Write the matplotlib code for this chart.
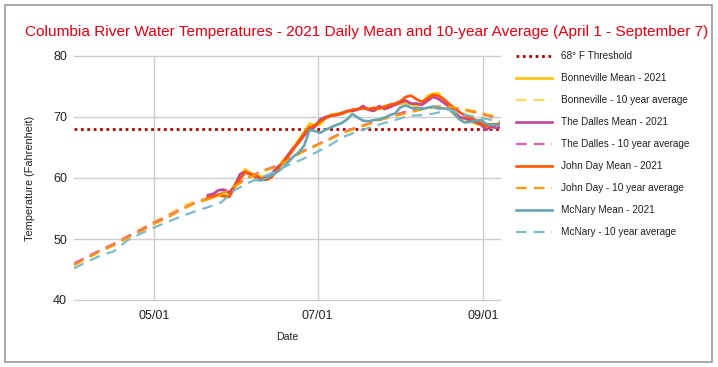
import numpy as np
import matplotlib
matplotlib.use("Agg")
import matplotlib.pyplot as plt
import matplotlib.dates as mdates
from matplotlib.patches import Rectangle

plt.rcParams['font.family'] = ['Liberation Sans', 'DejaVu Sans']

# ---------------- data ----------------
start_date = np.datetime64('2021-04-01')
end_date = np.datetime64('2021-09-07')
threshold = 68

# 10-year averages: day offsets from April 1
avg_days = [0, 5, 10, 15, 20, 25, 30, 35, 40, 45, 50, 55, 60, 65, 70, 75, 80,
            85, 90, 95, 100, 105, 110, 115, 120, 125, 130, 135, 140, 145, 150, 155, 159]
bonneville_avg = [45.8, 47.0, 48.2, 49.3, 50.5, 51.7, 52.9, 54.0, 55.3, 56.2, 56.8, 57.5, 58.8,
                  60.1, 61.1, 61.9, 63.0, 64.3, 65.3, 66.3, 67.4, 68.2, 68.9, 69.6, 70.2, 70.7,
                  71.2, 71.5, 71.5, 71.1, 70.6, 69.7, 69.2]
dalles_avg = [46.0, 47.1, 48.2, 49.2, 50.4, 51.5, 52.7, 53.7, 54.9, 55.9, 56.6, 57.4, 58.7,
              60.1, 61.1, 61.9, 63.0, 64.3, 65.3, 66.3, 67.4, 68.2, 68.9, 69.7, 70.4, 71.0,
              71.5, 71.7, 71.6, 71.3, 70.8, 70.2, 69.8]
johnday_avg = [45.7, 46.9, 48.0, 49.0, 50.2, 51.3, 52.5, 53.5, 54.8, 55.8, 56.5, 57.3, 58.6,
               60.0, 61.0, 61.8, 62.9, 64.2, 65.2, 66.2, 67.3, 68.1, 68.8, 69.6, 70.2, 70.7,
               71.3, 71.7, 71.7, 71.3, 70.9, 70.3, 70.0]
mcnary_avg = [45.2, 46.3, 47.3, 48.0, 49.8, 50.9, 51.9, 52.8, 53.7, 54.5, 55.2, 56.0, 58.0,
              59.2, 60.1, 61.0, 62.1, 63.0, 64.1, 65.2, 66.6, 67.5, 68.2, 68.9, 69.5, 70.2,
              70.3, 70.6, 71.2, 70.5, 70.0, 69.6, 69.3]

# 2021 daily means (every 2nd day from May 21, day offset 50)
mean_days = list(range(50, 159, 2)) + [159]
bonneville_2021 = [56.6, 56.8, 57.2, 57.0, 57.5, 58.9, 60.5, 61.4, 60.8, 60.5, 60.2, 60.3, 60.5,
                   61.5, 62.8, 63.8, 65.0, 66.3, 67.5, 68.9, 68.7, 68.8, 69.9, 70.4, 70.5, 70.7,
                   70.9, 71.0, 71.3, 71.7, 71.2, 71.0, 71.4, 71.8, 72.0, 72.0, 72.2, 72.3, 72.1,
                   71.8, 72.1, 73.4, 73.8, 73.9, 72.8, 71.4, 70.4, 69.8, 69.7, 69.4, 68.9, 68.7,
                   68.4, 68.2, 68.8, 69.0]
dalles_2021 = [57.2, 57.4, 58.0, 58.1, 57.6, 58.6, 60.6, 61.0, 60.6, 60.4, 59.8, 60.2, 60.8,
               61.8, 62.4, 63.8, 64.9, 65.8, 67.0, 67.8, 68.4, 69.6, 70.0, 70.2, 70.3, 70.6,
               71.0, 71.0, 71.2, 71.8, 71.2, 71.0, 71.8, 71.3, 71.6, 72.0, 72.4, 72.7, 72.2,
               72.2, 72.0, 72.6, 73.3, 73.0, 72.4, 71.8, 70.9, 70.0, 69.8, 69.5, 69.2, 68.8,
               67.9, 68.4, 68.2, 68.3]
johnday_2021 = [56.8, 57.0, 57.3, 57.0, 56.9, 58.5, 59.8, 60.9, 60.6, 60.1, 59.8, 59.7, 60.2,
                61.4, 62.6, 63.5, 64.7, 66.0, 67.3, 68.3, 68.6, 69.3, 69.8, 70.2, 70.4, 70.5,
                70.9, 71.2, 71.3, 71.4, 71.3, 71.5, 71.4, 71.6, 72.0, 72.2, 72.6, 73.3, 73.5,
                72.9, 72.5, 73.0, 73.6, 73.5, 73.0, 72.2, 71.5, 70.8, 70.3, 69.9, 69.5, 69.0,
                68.5, 68.8, 68.8, 68.9]
mcnary_days = list(range(68, 159, 2)) + [159]
mcnary_2021 = [59.7, 59.6, 60.0, 60.5, 61.0, 61.7, 62.6, 63.5, 64.2, 65.3, 67.9, 67.7, 67.4,
               67.9, 68.3, 68.7, 69.0, 69.6, 70.5, 69.9, 69.4, 69.3, 69.5, 69.6, 69.9, 70.3,
               70.6, 71.6, 71.9, 71.5, 71.4, 71.3, 71.5, 71.7, 71.4, 71.4, 71.3, 70.6, 69.6,
               69.1, 69.2, 69.4, 69.5, 68.9, 68.7, 68.7, 68.7]

tick_dates = ['2021-05-01', '2021-07-01', '2021-09-01']
y_ticks = [40, 50, 60, 70, 80]

# ---------------- drawing ----------------
W, H = 718, 367
fig = plt.figure(figsize=(W / 100, H / 100), dpi=100)
ax = fig.add_axes([74 / W, 1 - 300 / H, 426 / W, 244 / H])

def to_dates(days):
    return start_date + np.array(days).astype('timedelta64[D]')

mean_lw = 1.9
avg_lw = 1.6
dash = (0, (4.8, 3.2))

ax.axhline(threshold, color='#B00000', lw=2.0, linestyle=(0, (1, 1.3)),
           label='68° F Threshold', zorder=2)

series = [
    (mean_days, bonneville_2021, '#FFBF00', 'solid', 'Bonneville Mean - 2021'),
    (avg_days, bonneville_avg, '#FFD966', 'dashed', 'Bonneville - 10 year average'),
    (mean_days, dalles_2021, '#C2449A', 'solid', 'The Dalles Mean - 2021'),
    (avg_days, dalles_avg, '#E65BAE', 'dashed', 'The Dalles - 10 year average'),
    (mean_days, johnday_2021, '#FF5500', 'solid', 'John Day Mean - 2021'),
    (avg_days, johnday_avg, '#FF9900', 'dashed', 'John Day - 10 year average'),
    (mcnary_days, mcnary_2021, '#67A6AE', 'solid', 'McNary Mean - 2021'),
    (avg_days, mcnary_avg, '#7DBBC7', 'dashed', 'McNary - 10 year average'),
]
for i, (d, v, c, ls, lab) in enumerate(series):
    if ls == 'solid':
        ax.plot(to_dates(d), v, color=c, lw=mean_lw, label=lab, zorder=3 + i,
                solid_joinstyle='round')
    else:
        ax.plot(to_dates(d), v, color=c, lw=avg_lw, linestyle=dash, label=lab,
                zorder=3 + i)

ax.set_xlim(start_date, end_date + np.timedelta64(4, 'h'))
ax.set_ylim(40, 80)
ax.set_yticks(y_ticks)
ax.set_xticks([np.datetime64(t) for t in tick_dates])
ax.xaxis.set_major_formatter(mdates.DateFormatter('%m/%d'))

for s in ax.spines.values():
    s.set_visible(False)
ax.grid(True, color='#CCCCCC', lw=1)
for gl in ax.get_xgridlines() + ax.get_ygridlines():
    gl.set_clip_on(False)
ax.set_axisbelow(True)
ax.tick_params(length=0, labelsize=9, colors='#222222')
ax.tick_params(axis='y', pad=5)
ax.tick_params(axis='x', pad=7)

fig.text(30 / W, 1 - 178 / H, 'Temperature (Fahrenheit)', rotation=90,
         ha='center', va='center', fontsize=7.9, color='#222222')
fig.text(287 / W, 1 - 337 / H, 'Date', ha='center', va='center',
         fontsize=7.6, color='#222222')

fig.text(25 / W, 1 - 32 / H, 'Columbia River Water Temperatures - 2021 Daily Mean and '
         '10-year Average (April 1 - September 7)', ha='left', va='center',
         fontsize=11.05, color='#E00010')

leg = ax.legend(loc='upper left', bbox_to_anchor=(512 / W, 1 - 47 / H),
                bbox_transform=fig.transFigure, frameon=False, fontsize=7.2,
                handlelength=3.6, labelspacing=1.2, handletextpad=0.9,
                borderaxespad=0)
for t in leg.get_texts():
    t.set_color('#222222')

fig.patches.append(Rectangle((5 / W, 1 - 362 / H), 707 / W, 357 / H,
                             transform=fig.transFigure, fill=False,
                             edgecolor='#9A9A9A', lw=1.2))

fig.savefig('out.png', dpi=100)
